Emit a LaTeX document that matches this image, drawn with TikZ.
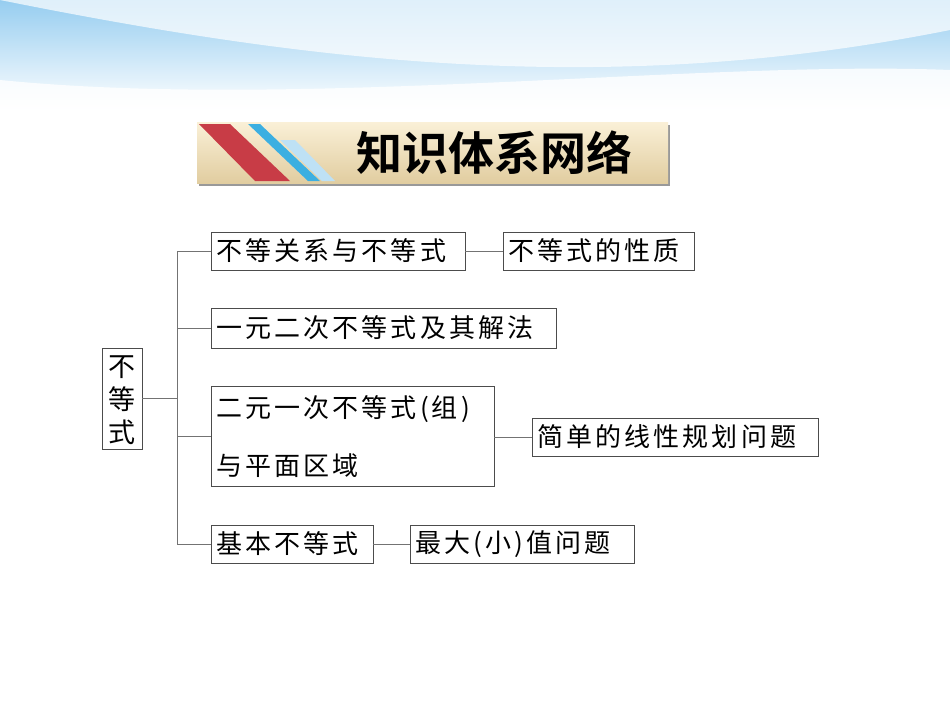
\documentclass[tikz,border=0pt]{standalone}
\usepackage{fontspec}
\newfontfamily\cjk[LetterSpace=12]{Noto Sans CJK SC}
\newfontfamily\cjkb{Noto Sans CJK SC Bold}
\definecolor{sky}{RGB}{150,205,240}
\definecolor{bantop}{RGB}{250,240,215}
\definecolor{banbot}{RGB}{225,205,160}
\definecolor{stred}{RGB}{200,60,70}
\definecolor{stblue}{RGB}{60,175,225}
\definecolor{stlight}{RGB}{190,225,245}
\begin{document}
\begin{tikzpicture}[x=1pt,y=-1pt,
  bx/.style={draw=black!70,line width=0.8pt,inner sep=0pt},
  tx/.style={font=\cjk\fontsize{26}{33}\selectfont,anchor=west,inner sep=0pt},
  ln/.style={draw=black!55,line width=0.8pt}]
\useasboundingbox (0,0) rectangle (950,713);
\fill[white] (0,0) rectangle (950,713);
\shade[top color=sky,bottom color=white] (0,0) rectangle (950,110);
\fill[white,opacity=0.7] (0,0) .. controls (300,60) and (600,100) .. (950,30) -- (950,0) -- cycle;
\fill[white,opacity=0.8] (0,110) -- (0,80) .. controls (300,110) and (700,60) .. (950,70) -- (950,110) -- cycle;
% banner
\fill[black!40] (199,125) rectangle (670,186);
\shade[top color=bantop,bottom color=banbot] (197,122) rectangle (668,183);
\fill[stred] (199,124) -- (230,124) -- (290,181) -- (255,181) -- cycle;
\fill[stblue] (248,124) -- (260,124) -- (320,181) -- (308,181) -- cycle;
\fill[stlight] (280,140) -- (295,140) -- (335,181) -- (322,181) -- cycle;
\node[font=\cjkb\fontsize{46}{46}\selectfont] (title) at (494,153) {知识体系网络};
% boxes
\node[bx,minimum width=40,minimum height=101] (root) at (122,398.5) {};
\node[font=\cjk\fontsize{27}{33}\selectfont,align=center,inner sep=0pt] (roott) at (122,400) {不\\等\\式};
\node[bx,minimum width=254,minimum height=38] (b1) at (338,251) {};
\node[tx] (b1t) at (216,251) {不等关系与不等式};
\node[bx,minimum width=191,minimum height=38] (b1b) at (598.5,251) {};
\node[tx] (b1bt) at (508,251) {不等式的性质};
\node[bx,minimum width=345,minimum height=40] (b2) at (383.5,328) {};
\node[tx] (b2t) at (216,328) {一元二次不等式及其解法};
\node[bx,minimum width=283,minimum height=100] (b3) at (352.5,436) {};
\node[tx] (b3t1) at (216,409) {二元一次不等式(组)};
\node[tx] (b3t2) at (216,466) {与平面区域};
\node[bx,minimum width=286,minimum height=38] (b3b) at (675,437) {};
\node[tx] (b3bt) at (537,437) {简单的线性规划问题};
\node[bx,minimum width=162,minimum height=38] (b4) at (292,544) {};
\node[tx] (b4t) at (216,544) {基本不等式};
\node[bx,minimum width=224,minimum height=38] (b4b) at (522,544) {};
\node[tx] (b4bt) at (415,544) {最大(小)值问题};
\coordinate (t) at (177,251);
\coordinate (tb) at (177,544);
\draw[ln] (root.east) -- (root.east -| t);
\draw[ln] (b1.west) -- (t) -- (tb) -- (b4.west);
\draw[ln] (b2.west) -- (b2.west -| t);
\draw[ln] (b3.west) -- (b3.west -| t);
\draw[ln] (b1.east) -- (b1b.west);
\draw[ln] (b3.east |- b3b.west) -- (b3b.west);
\draw[ln] (b4.east) -- (b4b.west);
\end{tikzpicture}
\end{document}
